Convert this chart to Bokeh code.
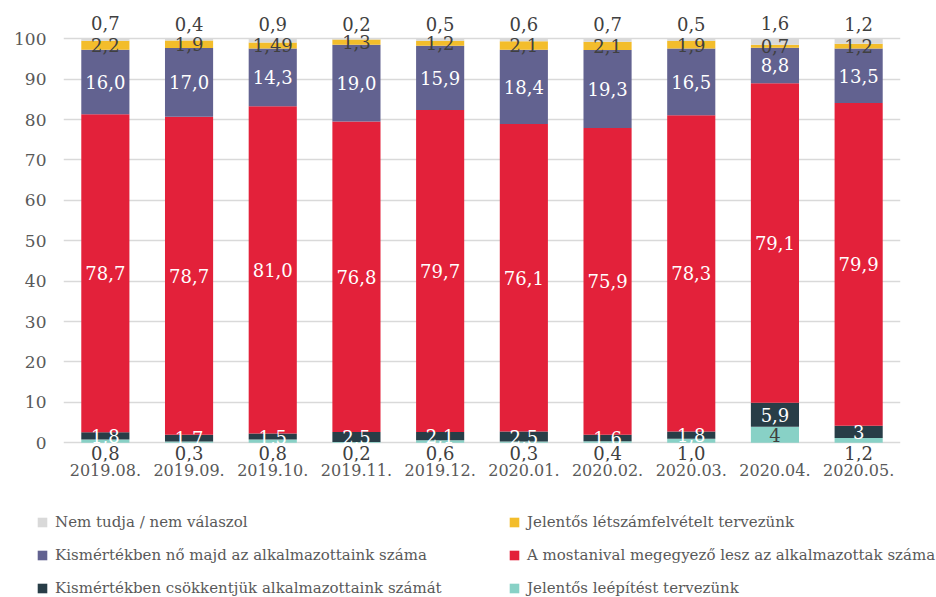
from bokeh.plotting import figure
from bokeh.layouts import column
from bokeh.models import ColumnDataSource, FactorRange, FixedTicker, Legend, LegendItem, Range1d
from bokeh.embed import file_html
from bokeh.resources import INLINE
from bokeh.core.properties import value

months = ["2019.08.", "2019.09.", "2019.10.", "2019.11.", "2019.12.",
          "2020.01.", "2020.02.", "2020.03.", "2020.04.", "2020.05."]
leepites = [0.8, 0.3, 0.8, 0.2, 0.6, 0.3, 0.4, 1.0, 4, 1.2]
csokkent = [1.8, 1.7, 1.5, 2.5, 2.1, 2.5, 1.6, 1.8, 5.9, 3]
azonos = [78.7, 78.7, 81.0, 76.8, 79.7, 76.1, 75.9, 78.3, 79.1, 79.9]
no_kis = [16.0, 17.0, 14.3, 19.0, 15.9, 18.4, 19.3, 16.5, 8.8, 13.5]
felvetel = [2.2, 1.9, 1.49, 1.3, 1.2, 2.1, 2.1, 1.9, 0.7, 1.2]
nem_tudja = [0.7, 0.4, 0.9, 0.2, 0.5, 0.6, 0.7, 0.5, 1.6, 1.2]
y_ticks = [0, 10, 20, 30, 40, 50, 60, 70, 80, 90, 100]

series_keys = ["leepites", "csokkent", "azonos", "no_kis", "felvetel", "nem_tudja"]
series_vals = [leepites, csokkent, azonos, no_kis, felvetel, nem_tudja]
series_names = ["Jelentős leépítést tervezünk",
                "Kismértékben csökkentjük alkalmazottaink számát",
                "A mostanival megegyező lesz az alkalmazottak száma",
                "Kismértékben nő majd az alkalmazottaink száma",
                "Jelentős létszámfelvételt tervezünk",
                "Nem tudja / nem válaszol"]
colors = ["#88d1c6", "#283d47", "#e3213a", "#626290", "#f3bd2b", "#d9d9d9"]

FONT = "DejaVu Serif"
TXT = "#404040"
AX = "#595959"


def fmt(v):
    if isinstance(v, int):
        s = str(v)
    elif round(v, 1) == v:
        s = f"{v:.1f}"
    else:
        s = f"{v:.2f}"
    return s.replace(".", ",")


data = {"months": months}
for k, v in zip(series_keys, series_vals):
    data[k] = v
source = ColumnDataSource(data)

p = figure(x_range=FactorRange(*months, range_padding=0),
           y_range=Range1d(-4.63, 109.48),
           width=936, height=511, output_backend="svg", toolbar_location=None,
           min_border_left=63, min_border_right=36, min_border_top=0,
           min_border_bottom=50)
p.outline_line_color = None
p.background_fill_color = "white"
p.border_fill_color = "white"

renderers = p.vbar_stack(series_keys, x="months", width=0.575, color=colors,
                         line_color=None, source=source)

# label positions (segment centres)
bottoms = [0.0] * len(months)
mids = {}
tops = {}
for k, vals in zip(series_keys, series_vals):
    mids[k] = [b + v / 2 for b, v in zip(bottoms, vals)]
    bottoms = [b + v for b, v in zip(bottoms, vals)]
    tops[k] = list(bottoms)


def add_labels(xs, ys, texts, color, baseline="middle", yoff=0):
    if not xs:
        return
    src = ColumnDataSource(dict(x=xs, y=ys, t=texts))
    p.text(x="x", y="y", text="t", source=src, text_align="center",
           text_baseline=baseline, text_font=value(FONT),
           text_font_size="18px", text_color=color, y_offset=yoff)


# inside white labels
for k in ["csokkent", "azonos", "no_kis"]:
    add_labels(months, mids[k], [fmt(v) for v in data[k]], "white")

# yellow labels
add_labels(months, mids["felvetel"], [fmt(v) for v in felvetel], TXT)

# top labels for Nem tudja
add_labels(months, tops["nem_tudja"], [fmt(v) for v in nem_tudja], TXT,
           baseline="bottom", yoff=-8)

# teal labels: inside if large, else below the axis
in_x, in_y, in_t, out_x, out_t = [], [], [], [], []
for m, v, c in zip(months, leepites, mids["leepites"]):
    if v >= 3:
        in_x.append(m); in_y.append(c); in_t.append(fmt(v))
    else:
        out_x.append(m); out_t.append(fmt(v))
add_labels(in_x, in_y, in_t, TXT)
add_labels(out_x, [0] * len(out_x), out_t, TXT, baseline="top", yoff=3)

# axes
p.yaxis.ticker = FixedTicker(ticks=y_ticks)
p.yaxis.axis_line_color = None
p.yaxis.major_tick_line_color = None
p.yaxis.minor_tick_line_color = None
p.yaxis.major_tick_out = 0
p.yaxis.major_label_standoff = 17
p.yaxis.major_label_text_font = FONT
p.yaxis.major_label_text_font_size = "17px"
p.yaxis.major_label_text_color = AX

p.xaxis.axis_line_color = None
p.xaxis.major_tick_line_color = None
p.xaxis.major_tick_out = 0
p.xaxis.major_label_standoff = 2
p.xaxis.major_label_text_font = FONT
p.xaxis.major_label_text_font_size = "16px"
p.xaxis.major_label_text_color = AX

p.xgrid.grid_line_color = None
p.ygrid.grid_line_color = "#d9d9d9"
p.ygrid.grid_line_width = 1.5

# legend figure (two columns)
lg = figure(width=936, height=86, output_backend="svg", toolbar_location=None,
            x_range=Range1d(0, 1), y_range=Range1d(0, 1),
            x_axis_location=None, y_axis_location=None,
            min_border_left=0, min_border_right=0, min_border_top=0,
            min_border_bottom=0)
lg.frame_align = False
lg.outline_line_color = None
lg.xgrid.grid_line_color = None
lg.ygrid.grid_line_color = None
dummy = [lg.vbar(x=[-1], top=[0], width=0.5, color=c, line_color=None) for c in colors]

order = [5, 3, 1, 4, 2, 0]
items = [LegendItem(label=series_names[i], renderers=[dummy[i]]) for i in order]
legend = Legend(items=items, orientation="vertical", ncols=2,
                glyph_width=12, glyph_height=12, label_standoff=7,
                label_text_font=FONT, label_text_font_size="15px",
                label_text_color=AX, label_height=18, label_width=438,
                spacing=15, border_line_color=None, background_fill_alpha=0,
                padding=0, margin=0, location=(36, 0))
lg.add_layout(legend, "center")

open("out.html", "w").write(file_html(column(p, lg), INLINE))
